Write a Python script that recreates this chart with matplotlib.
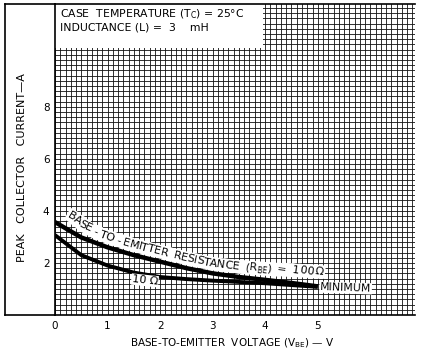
import matplotlib
matplotlib.use('Agg')
import matplotlib.pyplot as plt
from matplotlib.lines import Line2D
from matplotlib.patches import Rectangle
from matplotlib.textpath import TextToPath
from matplotlib.font_manager import FontProperties
import numpy as np

# data
vbe = [0, 0.5, 1, 1.5, 2, 2.5, 3, 3.5, 4, 4.5, 5]
ic_100ohm = [3.57, 2.98, 2.6, 2.3, 2.05, 1.8, 1.6, 1.46, 1.35, 1.23, 1.1]
ic_10ohm = [3.07, 2.3, 1.9, 1.63, 1.46, 1.38, 1.32, 1.27, 1.22, 1.15, 1.08]
x_ticks = [0, 1, 2, 3, 4, 5]
y_ticks = [2, 4, 6, 8]

plt.rcParams['font.family'] = ['DejaVu Sans']
fs = 7.5
DPI = 100

fig = plt.figure(figsize=(4.23, 3.52), dpi=DPI, facecolor='white')
ax = fig.add_axes([55/423, 37/352, 360/423, 311/352])
ax.set_xlim(0, 6.85)
ax.set_ylim(0, 11.95)

# fine graph-paper grid
ax.set_xticks(np.arange(0, 6.86, 0.1), minor=True)
ax.set_yticks(np.arange(0, 11.96, 0.2), minor=True)
ax.set_xticks(x_ticks)
ax.set_yticks(y_ticks)
ax.set_xticklabels([str(t) for t in x_ticks], fontsize=fs)
ax.set_yticklabels([str(t) for t in y_ticks], fontsize=fs)
ax.grid(which='both', color='#111111', lw=0.6)
ax.tick_params(which='both', length=0, pad=4)
ax.set_axisbelow(True)
ax.spines['right'].set_visible(False)
for s in ['left', 'bottom', 'top']:
    ax.spines[s].set_linewidth(1.2)

# white block behind the conditions text
ax.add_patch(Rectangle((0, 10.25), 3.95, 1.8, facecolor='white', edgecolor='none', zorder=2, clip_on=False))
ax.text(0.1, 11.55, 'CASE  TEMPERATURE (T$_\\mathregular{C}$) = 25°C', fontsize=7.8, va='center', zorder=3)
ax.text(0.1, 11.05, 'INDUCTANCE (L) =  3    mH', fontsize=7.8, va='center', zorder=3)

ax.plot(vbe, ic_100ohm, color='black', lw=3.2, solid_capstyle='butt', zorder=4)
ax.plot(vbe, ic_10ohm, color='black', lw=2.8, solid_capstyle='butt', zorder=4)

# curved label riding above the 100 ohm curve
xs = np.linspace(vbe[0], vbe[-1], 400)
pts = ax.transData.transform(np.column_stack([xs, np.interp(xs, vbe, ic_100ohm)]))
d = np.diff(pts, axis=0)
seg = np.hypot(d[:, 0], d[:, 1])
arc = np.concatenate([[0], np.cumsum(seg)])
ang = np.arctan2(d[:, 1], d[:, 0])
ang = np.concatenate([ang, ang[-1:]])
# smooth the angle a little so letters do not jump at the kinks
ang = np.convolve(np.pad(ang, 15, mode='edge'), np.ones(31) / 31, mode='valid')

label = [(c, False) for c in 'BASE - TO - EMITTER  RESISTANCE  (R'] + \
        [(c, True) for c in 'BE'] + [(c, False) for c in ')  =  100 Ω']
t2p = TextToPath()
lab_fs = 8
widths = []
for c, sub in label:
    prop = FontProperties(family='DejaVu Sans', size=lab_fs * (0.7 if sub else 1))
    w = t2p.get_text_width_height_descent(c, prop, ismath=False)[0] * DPI / 72
    widths.append(w)
start = 8.0
total = 270.0
extra = (total - sum(widths)) / (len(label) - 1)
off_s = [0, 45, 170, 220, 290]
off_v = [15, 10, 9.5, 11, 16]
pos = start
inv = fig.transFigure.inverted()
for (c, sub), w in zip(label, widths):
    s = pos + w / 2
    i = min(np.searchsorted(arc, s), len(pts) - 1)
    a = ang[i]
    nx, ny = -np.sin(a), np.cos(a)
    offset = np.interp(s, off_s, off_v)
    px, py = np.interp(s, arc, pts[:, 0]) + nx * offset, np.interp(s, arc, pts[:, 1]) + ny * offset
    fx, fy = inv.transform((px, py))
    # white ribbon behind the letters
    fig.text(fx, fy, 'A', fontsize=lab_fs, color='white', rotation=np.degrees(a),
             ha='center', va='center', rotation_mode='anchor', zorder=5,
             bbox=dict(facecolor='white', edgecolor='none', pad=1.2))
    if c.strip():
        k = 2.5 if sub else 0
        gx, gy = inv.transform((px - nx * k, py - ny * k))
        fig.text(gx, gy, c, fontsize=lab_fs * (0.7 if sub else 1), rotation=np.degrees(a),
                 ha='center', va='center', rotation_mode='anchor', zorder=6)
    pos += w + extra

box = dict(facecolor='white', edgecolor='none', pad=0.5)
ax.text(1.71, 1.33, '10 Ω', fontsize=8, rotation=-6, ha='center', va='center',
        rotation_mode='anchor', bbox=box, zorder=5)
ax.text(5.53, 1.04, 'MINIMUM', fontsize=7.8, rotation=-2, ha='center', va='center',
        rotation_mode='anchor', bbox=box, zorder=5)

# frame around the y-label strip
W, H = 423, 352
fig.add_artist(Line2D([5/W, 5/W], [1-4/H, 1-315/H], color='black', lw=1.2))
fig.add_artist(Line2D([5/W, 55/W], [1-4/H, 1-4/H], color='black', lw=1.2))
fig.add_artist(Line2D([5/W, 55/W], [1-315/H, 1-315/H], color='black', lw=1.2))

fig.text(22/W, 1-168/H, 'PEAK   COLLECTOR   CURRENT—A', rotation=90, fontsize=8,
         ha='center', va='center')
fig.text(232/W, 1-343/H, 'BASE-TO-EMITTER  VOLTAGE (V$_\\mathregular{BE}$) — V', fontsize=fs,
         ha='center', va='center')

fig.savefig('out.png', dpi=DPI, facecolor='white')
